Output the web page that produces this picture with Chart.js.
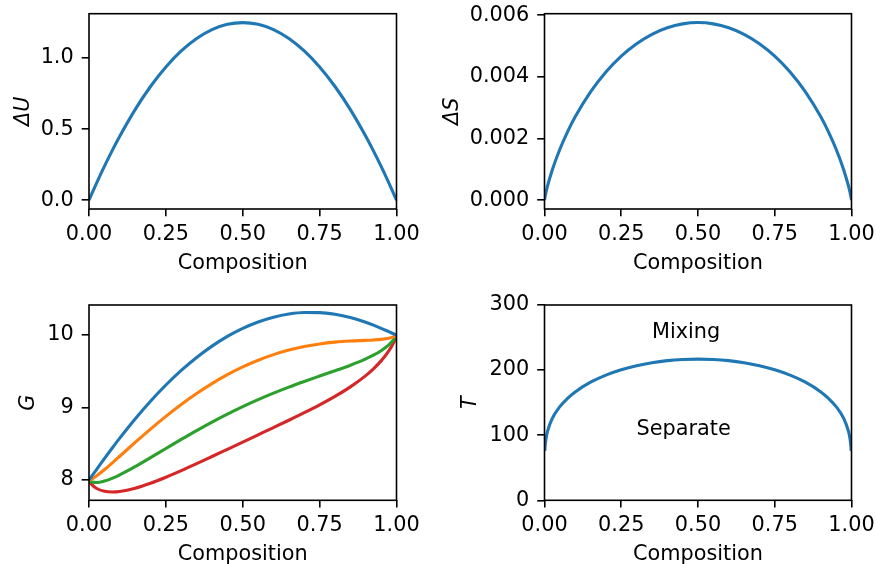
<!DOCTYPE html>
<html>
<head>
<meta charset="utf-8">
<script src="https://cdn.jsdelivr.net/npm/chart.js@4.4.1/dist/chart.umd.min.js"></script>
<style>
  html, body { margin: 0; padding: 0; background: #fff; }
  #fig { position: relative; width: 876px; height: 564px; overflow: hidden; }
  canvas { position: absolute; }
</style>
</head>
<body>
<div id="fig">
  <canvas id="du" width="430" height="282" style="left:0;top:0"></canvas>
  <canvas id="ds" width="446" height="282" style="left:430px;top:0"></canvas>
  <canvas id="g" width="430" height="282" style="left:0;top:282px"></canvas>
  <canvas id="t" width="446" height="282" style="left:430px;top:282px"></canvas>
</div>
<script>
// composition grid (denser near the ends where the curves are steep)
const composition = [0, 0.002, 0.005, 0.01, 0.025, 0.05, 0.075, 0.1, 0.15, 0.2, 0.25, 0.3, 0.35, 0.4, 0.45, 0.5,
  0.55, 0.6, 0.65, 0.7, 0.75, 0.8, 0.85, 0.9, 0.925, 0.95, 0.975, 0.99, 0.995, 0.998, 1];

const deltaU = [0, 0.0100, 0.0249, 0.0495, 0.1219, 0.2375, 0.3469, 0.45, 0.6375, 0.8, 0.9375, 1.05, 1.1375, 1.2, 1.2375, 1.25,
  1.2375, 1.2, 1.1375, 1.05, 0.9375, 0.8, 0.6375, 0.45, 0.3469, 0.2375, 0.1219, 0.0495, 0.0249, 0.0100, 0];

const deltaS = [0, 0.000120, 0.000262, 0.000466, 0.000972, 0.001650, 0.002215, 0.002703, 0.003514, 0.004160, 0.004675,
  0.005079, 0.005383, 0.005595, 0.005721, 0.005763, 0.005721, 0.005595, 0.005383, 0.005079, 0.004675, 0.004160,
  0.003514, 0.002703, 0.002215, 0.001650, 0.000972, 0.000466, 0.000262, 0.000120, 0];

// free energy curves, lowest to highest temperature
const gBlue = [8, 8.0107, 8.0277, 8.0567, 8.1452, 8.2922, 8.4360, 8.5757, 8.8409, 9.0856, 9.3090, 9.5103, 9.6895, 9.8462,
  9.9802, 10.0915, 10.1802, 10.2462, 10.2895, 10.3103, 10.3090, 10.2856, 10.2409, 10.1757, 10.1360, 10.0922, 10.0452,
  10.0167, 10.0077, 10.0027, 10];
const gOrange = [8, 7.9996, 8.0034, 8.0136, 8.0552, 8.1395, 8.2311, 8.3256, 8.5158, 8.7008, 8.8765, 9.0405, 9.1915, 9.3286,
  9.4510, 9.5584, 9.6510, 9.7286, 9.7915, 9.8405, 9.8765, 9.9008, 9.9158, 9.9256, 9.9311, 9.9395, 9.9552, 9.9736,
  9.9834, 9.9916, 10];
const gGreen = [8, 7.9882, 7.9785, 7.9693, 7.9629, 7.9828, 8.0206, 8.0689, 8.1820, 8.3056, 8.4324, 8.5580, 8.6802, 8.7971,
  8.9075, 9.0110, 9.1075, 9.1971, 9.2802, 9.3580, 9.4324, 9.5056, 9.5820, 9.6689, 9.7206, 9.7828, 9.8629, 9.9293,
  9.9585, 9.9802, 10];
const gRed = [8, 7.9780, 7.9563, 7.9297, 7.8803, 7.8425, 7.8324, 7.8391, 7.8833, 7.9520, 8.0350, 8.1263, 8.2226, 8.3215,
  8.4212, 8.5211, 8.6212, 8.7215, 8.8226, 8.9263, 9.0350, 9.1520, 9.2833, 9.4391, 9.5324, 9.6425, 9.7803, 9.8897,
  9.9363, 9.9700, 10];

// phase boundary
const phaseX = [0.001, 0.002, 0.005, 0.01, 0.025, 0.05, 0.075, 0.1, 0.15, 0.2, 0.25, 0.3, 0.35, 0.4, 0.45, 0.5,
  0.55, 0.6, 0.65, 0.7, 0.75, 0.8, 0.85, 0.9, 0.925, 0.95, 0.975, 0.99, 0.995, 0.998, 0.999];
const phaseT = [76.0, 83.2, 95.0, 106.3, 125.4, 143.9, 156.6, 166.5, 181.4, 192.3, 200.5, 206.7, 211.3, 214.5, 216.3, 216.9,
  216.3, 214.5, 211.3, 206.7, 200.5, 192.3, 181.4, 166.5, 156.6, 143.9, 125.4, 106.3, 95.0, 83.2, 76.0];

const xTicks = [0, 0.25, 0.5, 0.75, 1];
const duTicks = [0, 0.5, 1.0];
const dsTicks = [0, 0.002, 0.004, 0.006];
const gTicks = [8, 9, 10];
const tTicks = [0, 100, 200, 300];

const regionNames = ['Mixing', 'Separate'];

const FONT = 20.8;
const TICK_LEN = 7.3;
const X_AXIS_H = 60.3;

Chart.defaults.font.family = "'DejaVu Sans', sans-serif";
Chart.defaults.font.size = FONT;
Chart.defaults.color = '#000';

const pts = (xs, ys) => xs.map((x, i) => ({x: x, y: ys[i]}));

// full box round the plot area
const frame = {
  id: 'frame',
  afterDraw(chart) {
    const {ctx, chartArea: a} = chart;
    ctx.save();
    ctx.strokeStyle = '#000';
    ctx.lineWidth = 1.6;
    ctx.strokeRect(a.left, a.top, a.right - a.left, a.bottom - a.top);
    ctx.restore();
  }
};

const phaseLabels = {
  id: 'phaseLabels',
  afterDatasetsDraw(chart) {
    const {ctx, scales: {x, y}} = chart;
    const at = [[0.35, 250], [0.3, 100]];
    ctx.save();
    ctx.font = FONT + "px 'DejaVu Sans'";
    ctx.fillStyle = '#000';
    ctx.textAlign = 'left';
    ctx.textBaseline = 'alphabetic';
    regionNames.forEach((t, i) => ctx.fillText(t, x.getPixelForValue(at[i][0]), y.getPixelForValue(at[i][1])));
    ctx.restore();
  }
};

const tickGrid = { drawOnChartArea: false, tickLength: TICK_LEN, lineWidth: 1.6, color: '#000' };

function xAxis() {
  return {
    type: 'linear', min: 0, max: 1,
    afterBuildTicks: s => { s.ticks = xTicks.map(v => ({value: v})); },
    afterFit: s => { s.height = X_AXIS_H; s.paddingLeft = 0; s.paddingRight = 0; },
    ticks: { padding: 6, maxRotation: 0, autoSkip: false, callback: v => v.toFixed(2) },
    grid: tickGrid,
    border: { display: false },
    title: { display: true, text: 'Composition', padding: { top: 0, bottom: -6.5 } }
  };
}

function yAxis(o) {
  return {
    type: 'linear', min: o.min, max: o.max,
    afterBuildTicks: s => { s.ticks = o.ticks.map(v => ({value: v})); },
    afterFit: s => { s.width = o.width; s.paddingTop = 0; s.paddingBottom = 0; },
    ticks: { padding: 8, autoSkip: false, callback: v => v.toFixed(o.digits) },
    grid: tickGrid,
    border: { display: false },
    title: { display: true, text: o.title, font: { style: 'italic' }, padding: { top: o.titlePad, bottom: 0 } }
  };
}

function line(data, color) {
  return { data: data, borderColor: color, borderWidth: 3.1, pointRadius: 0, fill: false,
           cubicInterpolationMode: 'monotone' };
}

function makeChart(id, datasets, y, pad, extra) {
  return new Chart(document.getElementById(id), {
    type: 'line',
    data: { datasets: datasets },
    options: {
      responsive: false,
      animation: false,
      devicePixelRatio: 1,
      layout: { padding: pad },
      plugins: { legend: { display: false }, tooltip: { enabled: false } },
      scales: { x: xAxis(), y: y }
    },
    plugins: [frame].concat(extra || [])
  });
}

makeChart('du', [line(pts(composition, deltaU), '#1f77b4')],
  yAxis({ min: -0.0625, max: 1.3125, ticks: duTicks, digits: 1, width: 89, title: 'ΔU', titlePad: 10.8 }),
  { left: 0, top: 13.7, right: 33.5, bottom: 282 - 209 - X_AXIS_H });

makeChart('ds', [line(pts(composition, deltaS), '#1f77b4')],
  yAxis({ min: -0.000288, max: 0.006051, ticks: dsTicks, digits: 3, width: 114.5, title: 'ΔS', titlePad: 10 }),
  { left: 0, top: 13.7, right: 24.5, bottom: 282 - 209 - X_AXIS_H });

makeChart('g', [
    line(pts(composition, gBlue), '#1f77b4'),
    line(pts(composition, gOrange), '#ff7f0e'),
    line(pts(composition, gGreen), '#2ca02c'),
    line(pts(composition, gRed), '#d62728')
  ],
  yAxis({ min: 7.717, max: 10.414, ticks: gTicks, digits: 0, width: 89, title: 'G', titlePad: 16.5 }),
  { left: 0, top: 23, right: 33.5, bottom: 282 - 218.3 - X_AXIS_H });

makeChart('t', [line(pts(phaseX, phaseT), '#1f77b4')],
  yAxis({ min: 0, max: 300, ticks: tTicks, digits: 0, width: 114.5, title: 'T', titlePad: 28 }),
  { left: 0, top: 23, right: 24.5, bottom: 282 - 218.3 - X_AXIS_H },
  [phaseLabels]);
</script>
</body>
</html>
